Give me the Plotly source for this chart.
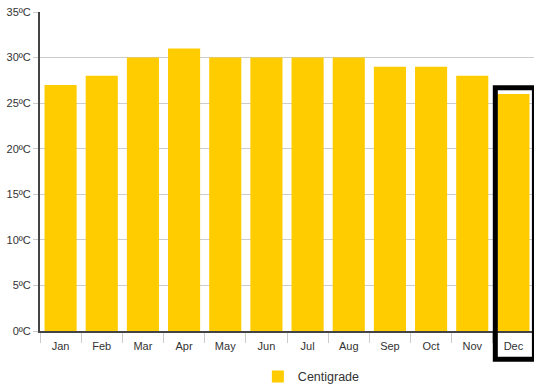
import plotly.graph_objects as go

months = ["Jan", "Feb", "Mar", "Apr", "May", "Jun", "Jul", "Aug", "Sep", "Oct", "Nov", "Dec"]
centigrade = [27, 28, 30, 31, 30, 30, 30, 30, 29, 29, 28, 26]
tick_vals = [0, 5, 10, 15, 20, 25, 30, 35]
tick_text = [f"{v}ºC" for v in tick_vals]
highlight = "Dec"
y_max = 35

fig = go.Figure()
fig.add_trace(go.Bar(
    x=months, y=centigrade, name="Centigrade",
    marker=dict(color="#FFCC00", line=dict(width=0)),
))

n = len(months)
hi = months.index(highlight)
fig.add_shape(type="rect", xref="paper", yref="paper",
              x0=(hi + 0.06) / n, x1=(hi + 1.01) / n,
              y0=-3.1 / y_max, y1=(centigrade[hi] + 0.7) / y_max,
              line=dict(color="black", width=5), layer="above")

fig.update_layout(
    width=534, height=389,
    margin=dict(l=40, r=0, t=12, b=58, autoexpand=False),
    paper_bgcolor="white", plot_bgcolor="white",
    font=dict(family="Liberation Sans, Arial, sans-serif", size=11, color="#333333"),
    bargap=0.22,
    showlegend=True,
    legend=dict(orientation="h", x=0.441, xanchor="left", y=-0.097, yanchor="top",
                font=dict(size=12.5, color="#333333")),
    xaxis=dict(showline=True, linecolor="#444444", linewidth=2,
               ticks="outside", tickson="boundaries", ticklen=10, tickcolor="#cccccc",
               ticklabelstandoff=4,
               tickfont=dict(size=11, color="#333333"), showgrid=False,
               range=[-0.5, 11.5]),
    yaxis=dict(range=[0, y_max], tickvals=tick_vals, ticktext=tick_text,
               showline=True, linecolor="#444444", linewidth=2,
               showgrid=True, gridcolor="#cccccc", gridwidth=1,
               ticks="outside", ticklen=5, tickcolor="#cccccc",
               tickfont=dict(size=11, color="#333333"), zeroline=False),
)

fig.write_html("out.html", config={"displayModeBar": False},
               post_script="document.body.style.margin='0px';document.body.style.overflow='hidden';")
